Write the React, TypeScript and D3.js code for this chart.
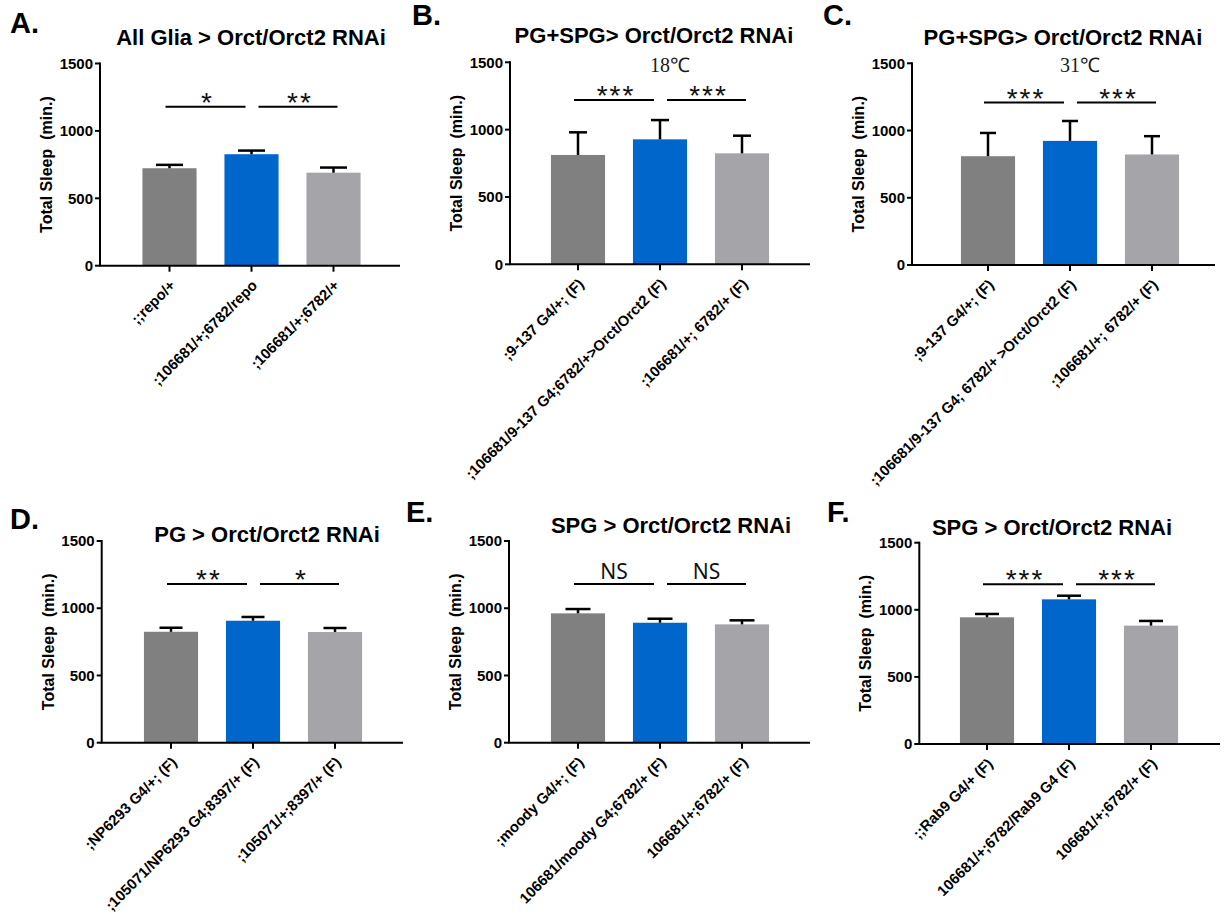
import React from "react";
import * as d3 from "d3";

// --- data ---
const panelLetters = ["A.", "B.", "C.", "D.", "E.", "F."];
const panelTitles = [
  "All Glia > Orct/Orct2 RNAi",
  "PG+SPG> Orct/Orct2 RNAi",
  "PG+SPG> Orct/Orct2 RNAi",
  "PG > Orct/Orct2 RNAi",
  "SPG > Orct/Orct2 RNAi",
  "SPG > Orct/Orct2 RNAi",
];
const panelTemps = ["", "18℃", "31℃", "", "", ""];
const genotypes = [
  [";;repo/+", ";106681/+;6782/repo", ";106681/+;6782/+"],
  [";9-137 G4/+; (F)", ";106681/9-137 G4;6782/+>Orct/Orct2 (F)", ";106681/+; 6782/+ (F)"],
  [";9-137 G4/+; (F)", ";106681/9-137 G4; 6782/+ >Orct/Orct2 (F)", ";106681/+; 6782/+ (F)"],
  [";NP6293 G4/+; (F)", ";105071/NP6293 G4;8397/+ (F)", ";105071/+;8397/+ (F)"],
  [";moody G4/+; (F)", "106681/moody G4;6782/+ (F)", "106681/+;6782/+ (F)"],
  [";;Rab9 G4/+ (F)", "106681/+;6782/Rab9 G4 (F)", "106681/+;6782/+ (F)"],
];
const meanSleep = [
  [723, 827, 690],
  [812, 928, 824],
  [809, 923, 822],
  [825, 907, 823],
  [962, 892, 880],
  [944, 1078, 882],
];
const semSleep = [
  [25, 27, 38],
  [168, 143, 131],
  [173, 148, 136],
  [30, 28, 30],
  [32, 30, 30],
  [25, 27, 35],
];
const sigLabels = [
  ["*", "**"],
  ["***", "***"],
  ["***", "***"],
  ["**", "*"],
  ["NS", "NS"],
  ["***", "***"],
];
const sigLevel = [1180, 1220, 1208, 1180, 1180, 1190];
const yTicks = [0, 500, 1000, 1500];
const barColors = ["#808080", "#0066cc", "#a5a5a9"];

// --- panel frames (page geometry) ---
const layout = [
  { axisX: 100, top: 63.5, bottom: 265.7, axisEnd: 400, firstBar: 169.5, cap: 27, titleX: 251, titleY: 45, letterX: 10, letterY: 33 },
  { axisX: 510, top: 62.3, bottom: 264.3, axisEnd: 810, firstBar: 578, cap: 18, titleX: 654, titleY: 43, letterX: 412, letterY: 25 },
  { axisX: 912, top: 63.3, bottom: 265, axisEnd: 1215, firstBar: 988, cap: 16, titleX: 1063, titleY: 45, letterX: 823, letterY: 25 },
  { axisX: 101.7, top: 541, bottom: 742.7, axisEnd: 403, firstBar: 171, cap: 23, titleX: 267, titleY: 542, letterX: 10, letterY: 529 },
  { axisX: 509, top: 541, bottom: 742.7, axisEnd: 810, firstBar: 578, cap: 25, titleX: 671, titleY: 533, letterX: 406, letterY: 522 },
  { axisX: 919.3, top: 542.7, bottom: 744, axisEnd: 1220, firstBar: 987, cap: 24, titleX: 1052, titleY: 535, letterX: 827, letterY: 522 },
];

const FONT = "'Liberation Sans', Arial, sans-serif";
const STEP = 82;

function Panel({ i }: { i: number }) {
  const L = layout[i];
  const cats = genotypes[i];
  const y = d3.scaleLinear().domain([0, 1500]).range([L.bottom, L.top]);
  const x = d3
    .scaleBand<string>()
    .domain(cats)
    .range([L.firstBar - STEP / 2, L.firstBar - STEP / 2 + STEP * cats.length])
    .paddingInner(0.34)
    .paddingOuter(0.17);
  const cx = (k: number) => (x(cats[k]) as number) + x.bandwidth() / 2;

  const sigY = y(sigLevel[i]);
  const sigSpans = [
    [cx(0) - 4, cx(1) - 6],
    [cx(1) + 7, cx(2) + 4],
  ];

  return (
    <g>
      <text x={L.letterX} y={L.letterY} fontFamily={FONT} fontWeight="bold" fontSize={29}>
        {panelLetters[i]}
      </text>
      <text x={L.titleX} y={L.titleY} fontFamily={FONT} fontWeight="bold" fontSize={22} textAnchor="middle">
        {panelTitles[i]}
      </text>
      {panelTemps[i] && (
        <text x={cx(1) + 10} y={72} fontFamily="'Liberation Serif', serif" fontSize={20} textAnchor="middle" fill="#1a1a1a">
          {panelTemps[i]}
        </text>
      )}

      {/* bars */}
      {cats.map((c, k) => (
        <rect
          key={c}
          x={x(c)}
          y={y(meanSleep[i][k])}
          width={x.bandwidth()}
          height={y(0) - y(meanSleep[i][k])}
          fill={barColors[k]}
        />
      ))}

      {/* error bars (upper only) */}
      {cats.map((c, k) => {
        const top = y(meanSleep[i][k] + semSleep[i][k]);
        return (
          <g key={"e" + c} stroke="#000" strokeWidth={2.5}>
            <line x1={cx(k)} x2={cx(k)} y1={y(meanSleep[i][k])} y2={top} />
            <line x1={cx(k) - L.cap / 2} x2={cx(k) + L.cap / 2} y1={top} y2={top} />
          </g>
        );
      })}

      {/* significance */}
      {sigSpans.map(([a, b], s) => {
        const lab = sigLabels[i][s];
        const ns = lab === "NS";
        return (
          <g key={"s" + s}>
            <line x1={a} x2={b} y1={sigY} y2={sigY} stroke="#000" strokeWidth={2} />
            <text
              x={(a + b) / 2 + (ns ? 0 : 2)}
              y={ns ? sigY - 5 : sigY + 5}
              textAnchor="middle"
              fontFamily={ns ? "'Noto Sans', sans-serif" : FONT}
              fontSize={ns ? 21 : 28}
              letterSpacing={ns ? 0 : 2}
              fill="#111"
            >
              {lab}
            </text>
          </g>
        );
      })}

      {/* y axis */}
      <line x1={L.axisX} x2={L.axisX} y1={L.top - 1} y2={L.bottom} stroke="#000" strokeWidth={2} />
      {yTicks.map((t) => (
        <g key={t}>
          <line x1={L.axisX - 5} x2={L.axisX} y1={y(t)} y2={y(t)} stroke="#000" strokeWidth={2} />
          <text x={L.axisX - 7} y={y(t)} dy="0.35em" textAnchor="end" fontFamily={FONT} fontWeight="bold" fontSize={15}>
            {t}
          </text>
        </g>
      ))}
      <text
        transform={`translate(${L.axisX - 48},${(L.top + L.bottom) / 2}) rotate(-90)`}
        textAnchor="middle"
        fontFamily={FONT}
        fontWeight="bold"
        fontSize={16}
        style={{ whiteSpace: "pre" }}
      >
        {"Total Sleep  (min.)"}
      </text>

      {/* x axis */}
      <line x1={L.axisX - 1} x2={L.axisEnd} y1={L.bottom} y2={L.bottom} stroke="#000" strokeWidth={2} />
      {cats.map((c, k) => (
        <g key={"x" + c}>
          <line x1={cx(k)} x2={cx(k)} y1={L.bottom} y2={L.bottom + 6} stroke="#000" strokeWidth={2} />
          <text
            transform={`translate(${cx(k) + 3},${L.bottom + 17}) rotate(-45)`}
            dy="0.35em"
            textAnchor="end"
            fontFamily={FONT}
            fontWeight="bold"
            fontSize={14.8}
          >
            {c}
          </text>
        </g>
      ))}
    </g>
  );
}

export default function App() {
  return (
    <svg
      width={1225}
      height={915}
      style={{ position: "absolute", left: 0, top: 0, background: "#fff" }}
    >
      <rect width={1225} height={915} fill="#fff" />
      {panelLetters.map((_, i) => (
        <Panel key={i} i={i} />
      ))}
    </svg>
  );
}
